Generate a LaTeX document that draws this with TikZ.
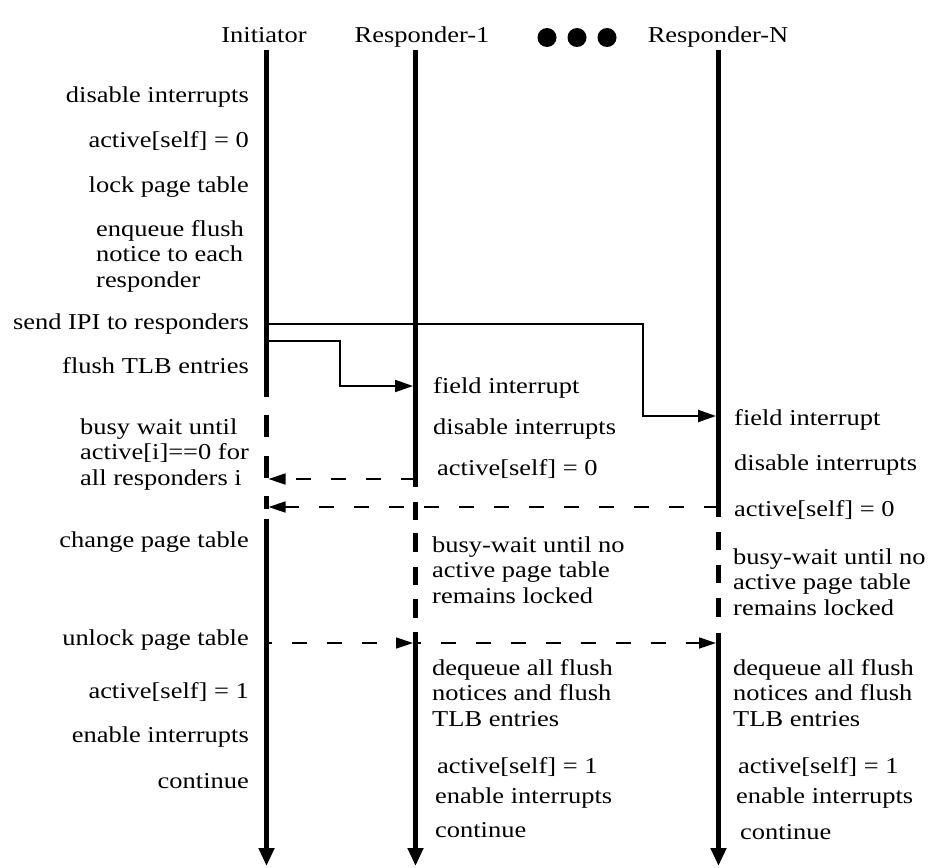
\documentclass[tikz,border=0pt]{standalone}
\usepackage{fontspec}
\setmainfont[FakeStretch=1.165]{Liberation Serif}
\usetikzlibrary{arrows.meta}
\begin{document}
\begin{tikzpicture}[x=1pt,y=-1pt,
  txt/.style={inner sep=0pt,font=\fontsize{22.7}{25.5}\selectfont},
  lt/.style={txt,anchor=base west,align=left},
  rt/.style={txt,anchor=base east},
  hd/.style={txt,anchor=base},
  lifeline/.style={line width=5pt},
  lifeend/.style={line width=5pt,-{Triangle[length=18pt,width=15pt]}},
  msg/.style={line width=2pt,-{Triangle[length=18pt,width=12pt]}},
  reply/.style={line width=1.5pt,dash pattern=on 15pt off 20pt,-{Triangle[length=17pt,width=11pt]}},
  dot/.style={fill=black}
]
\useasboundingbox (0,0) rectangle (928,867);

% headers
\node[hd] (hinit) at (264,43) {Initiator};
\node[hd] (hr1) at (422,43) {Responder-1};
\node[hd] (hrn) at (718,43) {Responder-N};
\fill[dot] (547,37.5) circle (9.5);
\fill[dot] (577,37.5) circle (9.5);
\fill[dot] (607,37.5) circle (9.5);

% lifeline coordinates
\coordinate (iTop) at (266.5,50);
\coordinate (iBot) at (266.5,866);
\coordinate (aTop) at (415.5,50);
\coordinate (aBot) at (415.5,866);
\coordinate (nTop) at (718.5,50);
\coordinate (nBot) at (718.5,866);

% Initiator lifeline
\draw[lifeline] (iTop) -- (266.5,397);
\draw[lifeline] (266.5,415) -- (266.5,437);
\draw[lifeline] (266.5,456) -- (266.5,478);
\draw[lifeline] (266.5,496) -- (266.5,509);
\draw[lifeend] (266.5,519) -- (iBot);

% Responder-1 lifeline
\draw[lifeline] (aTop) -- (415.5,487);
\draw[lifeline] (415.5,502) -- (415.5,520);
\draw[lifeline] (415.5,533) -- (415.5,552);
\draw[lifeline] (415.5,567) -- (415.5,585);
\draw[lifeline] (415.5,599) -- (415.5,618);
\draw[lifeend] (415.5,632) -- (aBot);

% Responder-N lifeline
\draw[lifeline] (nTop) -- (718.5,517);
\draw[lifeline] (718.5,532) -- (718.5,550);
\draw[lifeline] (718.5,565) -- (718.5,583);
\draw[lifeline] (718.5,598) -- (718.5,617);
\draw[lifeend] (718.5,633) -- (nBot);

% message coordinates
\coordinate (ipiS) at (266.5,324);
\coordinate (ipiE) at (716,416);
\coordinate (tlbS) at (266.5,341);
\coordinate (tlbE) at (413,386);
\coordinate (r1S) at (415.5,479);
\coordinate (r1E) at (268.5,479);
\coordinate (rnS) at (718.5,507);
\coordinate (rnE) at (268.5,507);
\coordinate (ulS) at (266.5,643);
\coordinate (ulA) at (413,643);
\coordinate (ulB) at (415.5,643);
\coordinate (ulN) at (716,643);

\draw[msg] (ipiS) -- (643,324) -- (643,416) -- (ipiE);
\draw[msg] (tlbS) -- (340,341) -- (340,386) -- (tlbE);
\draw[reply] (r1S) -- (r1E);
\draw[reply] (rnS) -- (rnE);
\draw[reply,dash phase=10pt] (ulS) -- (ulA);
\draw[reply,dash phase=10pt] (ulB) -- (ulN);

% Initiator texts
\node[rt] (t1) at (249,102) {disable interrupts};
\node[rt] (t2) at (249,147) {active[self] = 0};
\node[rt] (t3) at (249,192) {lock page table};
\node[lt] (t4) at (96,287) {enqueue flush\\notice to each\\responder};
\node[rt] (t5) at (249,329) {send IPI to responders};
\node[rt] (t6) at (249,373) {flush TLB entries};
\node[lt] (t7) at (80,485) {busy wait until\\active[i]==0 for\\all responders i};
\node[rt] (t8) at (249,547) {change page table};
\node[rt] (t9) at (249,645) {unlock page table};
\node[rt] (t10) at (249,698) {active[self] = 1};
\node[rt] (t11) at (249,742) {enable interrupts};
\node[rt] (t12) at (249,788) {continue};

% Responder-1 texts
\node[lt] (a1) at (433,393) {field interrupt};
\node[lt] (a2) at (433,434) {disable interrupts};
\node[lt] (a3) at (437,475) {active[self] = 0};
\node[lt] (a4) at (432,603) {busy-wait until no\\active page table\\remains locked};
\node[lt] (a5) at (432,726) {dequeue all flush\\notices and flush\\TLB entries};
\node[lt] (a6) at (437,773) {active[self] = 1};
\node[lt] (a7) at (435,803) {enable interrupts};
\node[lt] (a8) at (435,837) {continue};

% Responder-N texts
\node[lt] (n1) at (734,425) {field interrupt};
\node[lt] (n2) at (734,470) {disable interrupts};
\node[lt] (n3) at (734,516) {active[self] = 0};
\node[lt] (n4) at (733,615) {busy-wait until no\\active page table\\remains locked};
\node[lt] (n5) at (733,726) {dequeue all flush\\notices and flush\\TLB entries};
\node[lt] (n6) at (738,773) {active[self] = 1};
\node[lt] (n7) at (736,803) {enable interrupts};
\node[lt] (n8) at (740,839) {continue};
\end{tikzpicture}
\end{document}
